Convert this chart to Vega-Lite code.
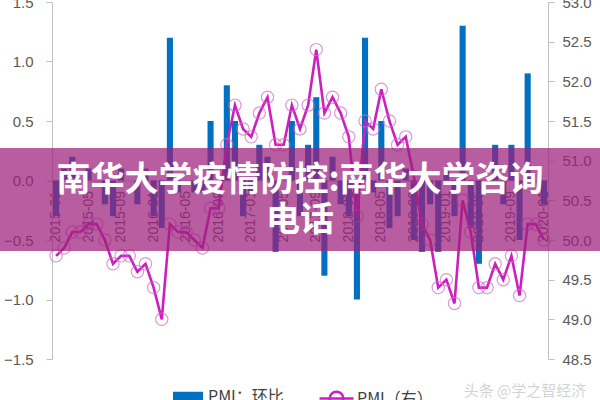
{
  "$schema": "https://vega.github.io/schema/vega-lite/v6.json",
  "width": 496,
  "height": 357,
  "autosize": {"type": "none"},
  "padding": {"left": 52, "top": 2, "right": 52, "bottom": 41},
  "background": "white",
  "config": {"view": {"stroke": null}, "font": "Liberation Sans"},
  "data": {"values": [
    {"month": "2015-01", "chg": -0.3, "pmi": 49.8},
    {"month": "2015-02", "chg": 0.1, "pmi": 49.9},
    {"month": "2015-03", "chg": 0.2, "pmi": 50.1},
    {"month": "2015-04", "chg": 0.0, "pmi": 50.1},
    {"month": "2015-05", "chg": 0.1, "pmi": 50.2},
    {"month": "2015-06", "chg": 0.0, "pmi": 50.2},
    {"month": "2015-07", "chg": -0.2, "pmi": 50.0},
    {"month": "2015-08", "chg": -0.3, "pmi": 49.7},
    {"month": "2015-09", "chg": 0.1, "pmi": 49.8},
    {"month": "2015-10", "chg": 0.0, "pmi": 49.8},
    {"month": "2015-11", "chg": -0.2, "pmi": 49.6},
    {"month": "2015-12", "chg": 0.1, "pmi": 49.7},
    {"month": "2016-01", "chg": -0.3, "pmi": 49.4},
    {"month": "2016-02", "chg": -0.4, "pmi": 49.0},
    {"month": "2016-03", "chg": 1.2, "pmi": 50.2},
    {"month": "2016-04", "chg": -0.1, "pmi": 50.1},
    {"month": "2016-05", "chg": 0.0, "pmi": 50.1},
    {"month": "2016-06", "chg": -0.1, "pmi": 50.0},
    {"month": "2016-07", "chg": -0.1, "pmi": 49.9},
    {"month": "2016-08", "chg": 0.5, "pmi": 50.4},
    {"month": "2016-09", "chg": 0.0, "pmi": 50.4},
    {"month": "2016-10", "chg": 0.8, "pmi": 51.2},
    {"month": "2016-11", "chg": 0.5, "pmi": 51.7},
    {"month": "2016-12", "chg": -0.3, "pmi": 51.4},
    {"month": "2017-01", "chg": -0.1, "pmi": 51.3},
    {"month": "2017-02", "chg": 0.3, "pmi": 51.6},
    {"month": "2017-03", "chg": 0.2, "pmi": 51.8},
    {"month": "2017-04", "chg": -0.6, "pmi": 51.2},
    {"month": "2017-05", "chg": 0.0, "pmi": 51.2},
    {"month": "2017-06", "chg": 0.5, "pmi": 51.7},
    {"month": "2017-07", "chg": -0.3, "pmi": 51.4},
    {"month": "2017-08", "chg": 0.3, "pmi": 51.7},
    {"month": "2017-09", "chg": 0.7, "pmi": 52.4},
    {"month": "2017-10", "chg": -0.8, "pmi": 51.6},
    {"month": "2017-11", "chg": 0.2, "pmi": 51.8},
    {"month": "2017-12", "chg": -0.2, "pmi": 51.6},
    {"month": "2018-01", "chg": -0.3, "pmi": 51.3},
    {"month": "2018-02", "chg": -1.0, "pmi": 50.3},
    {"month": "2018-03", "chg": 1.2, "pmi": 51.5},
    {"month": "2018-04", "chg": -0.1, "pmi": 51.4},
    {"month": "2018-05", "chg": 0.5, "pmi": 51.9},
    {"month": "2018-06", "chg": -0.4, "pmi": 51.5},
    {"month": "2018-07", "chg": -0.3, "pmi": 51.2},
    {"month": "2018-08", "chg": 0.1, "pmi": 51.3},
    {"month": "2018-09", "chg": -0.5, "pmi": 50.8},
    {"month": "2018-10", "chg": -0.6, "pmi": 50.2},
    {"month": "2018-11", "chg": -0.2, "pmi": 50.0},
    {"month": "2018-12", "chg": -0.6, "pmi": 49.4},
    {"month": "2019-01", "chg": 0.1, "pmi": 49.5},
    {"month": "2019-02", "chg": -0.3, "pmi": 49.2},
    {"month": "2019-03", "chg": 1.3, "pmi": 50.5},
    {"month": "2019-04", "chg": -0.4, "pmi": 50.1},
    {"month": "2019-05", "chg": -0.7, "pmi": 49.4},
    {"month": "2019-06", "chg": 0.0, "pmi": 49.4},
    {"month": "2019-07", "chg": 0.3, "pmi": 49.7},
    {"month": "2019-08", "chg": -0.2, "pmi": 49.5},
    {"month": "2019-09", "chg": 0.3, "pmi": 49.8},
    {"month": "2019-10", "chg": -0.5, "pmi": 49.3},
    {"month": "2019-11", "chg": 0.9, "pmi": 50.2},
    {"month": "2019-12", "chg": 0.0, "pmi": 50.2},
    {"month": "2020-01", "chg": -0.2, "pmi": 50.0}
  ]},
  "layer": [
    {
      "mark": {"type": "bar"},
      "encoding": {
        "x": {
          "field": "month", "type": "ordinal", "sort": null,
          "scale": {"paddingInner": 0.25, "paddingOuter": 0.125},
          "axis": {
            "title": null, "orient": "bottom", "offset": -178.5,
            "values": ["2015-01","2015-05","2015-09","2016-01","2016-05","2016-09","2017-01","2017-05","2017-09","2018-01","2018-05","2018-09","2019-01","2019-05","2019-09","2020-01"],
            "labelAngle": 270, "labelFontSize": 14, "labelColor": "#595959",
            "labelPadding": 10, "ticks": false, "domainColor": "#bfbfbf",
            "labelOverlap": false
          }
        },
        "y": {
          "field": "chg", "type": "quantitative",
          "scale": {"domain": [-1.5, 1.5], "nice": false},
          "axis": {
            "title": null, "values": [-1.5, -1, -0.5, 0, 0.5, 1, 1.5], "format": ".1f",
            "grid": false, "domainColor": "#bfbfbf", "tickColor": "#bfbfbf",
            "tickSize": 6, "labelPadding": 13, "labelFontSize": 15, "labelColor": "#595959"
          }
        },
        "fill": {
          "datum": "PMI：环比", "type": "nominal",
          "scale": {"range": ["#0070C0"]},
          "legend": {
            "orient": "none", "legendX": 121, "legendY": 380, "title": null,
            "padding": 0, "symbolType": "M-1,-0.35H1V0.35H-1Z", "symbolSize": 900,
            "symbolStrokeWidth": 0,
            "labelFont": "Noto Sans CJK SC", "labelFontSize": 16, "labelColor": "#404040",
            "labelOffset": 5
          }
        }
      }
    },
    {
      "encoding": {
        "x": {"field": "month", "type": "ordinal", "sort": null},
        "y": {
          "field": "pmi", "type": "quantitative",
          "scale": {"domain": [48.5, 53], "nice": false, "zero": false},
          "axis": {
            "title": null, "orient": "right",
            "values": [48.5, 49, 49.5, 50, 50.5, 51, 51.5, 52, 52.5, 53], "format": ".1f",
            "grid": false, "domainColor": "#bfbfbf", "tickColor": "#bfbfbf",
            "tickSize": 6, "labelPadding": 8, "labelFontSize": 15, "labelColor": "#595959"
          }
        }
      },
      "layer": [
        {
          "mark": {"type": "line", "strokeWidth": 2.6},
          "encoding": {
            "stroke": {
              "datum": "PMI（右）", "type": "nominal",
              "scale": {"range": ["#cc1fbf"]},
              "legend": {
                "orient": "none", "legendX": 266, "legendY": 378, "title": null,
                "padding": 0,
                "symbolType": "M-1,0H1M0.4,0A0.4,0.4,0,1,1,-0.4,0A0.4,0.4,0,1,1,0.4,0",
                "symbolSize": 1156, "symbolStrokeWidth": 2.5, "symbolFillColor": "transparent",
                "labelFont": "Noto Sans CJK SC", "labelFontSize": 16, "labelColor": "#404040",
                "labelOffset": 2
              }
            }
          }
        },
        {
          "mark": {"type": "point", "filled": false, "size": 150, "color": "#d06ac8", "strokeWidth": 1.2}
        }
      ]
    },
    {
      "data": {"values": [{"banner": 1}]},
      "layer": [
        {
          "mark": {"type": "rect", "color": "#9c1f7c", "opacity": 0.72, "x": -60, "x2": 560},
          "encoding": {
            "y": {"datum": 0.273, "type": "quantitative", "scale": {"domain": [-1.5, 1.5], "nice": false}, "axis": null},
            "y2": {"datum": -0.592}
          }
        },
        {
          "mark": {"type": "text", "text": "南华大学疫情防控:南华大学咨询", "font": "Noto Sans CJK SC", "fontWeight": "bold", "fontSize": 34, "color": "white", "x": 248, "align": "center", "baseline": "middle"},
          "encoding": {"y": {"datum": 0.0, "type": "quantitative"}}
        },
        {
          "mark": {"type": "text", "text": "电话", "font": "Noto Sans CJK SC", "fontWeight": "bold", "fontSize": 34, "color": "white", "x": 248, "align": "center", "baseline": "middle"},
          "encoding": {"y": {"datum": -0.34, "type": "quantitative"}}
        },
        {
          "mark": {"type": "text", "text": "头条 @学之智经济", "font": "Noto Sans CJK SC", "fontSize": 15, "color": "#333333", "stroke": "white", "strokeWidth": 2, "strokeOpacity": 0.8, "x": 473, "align": "center", "baseline": "middle"},
          "encoding": {"y": {"datum": -1.769, "type": "quantitative"}}
        }
      ]
    }
  ],
  "resolve": {"scale": {"y": "independent"}}
}
